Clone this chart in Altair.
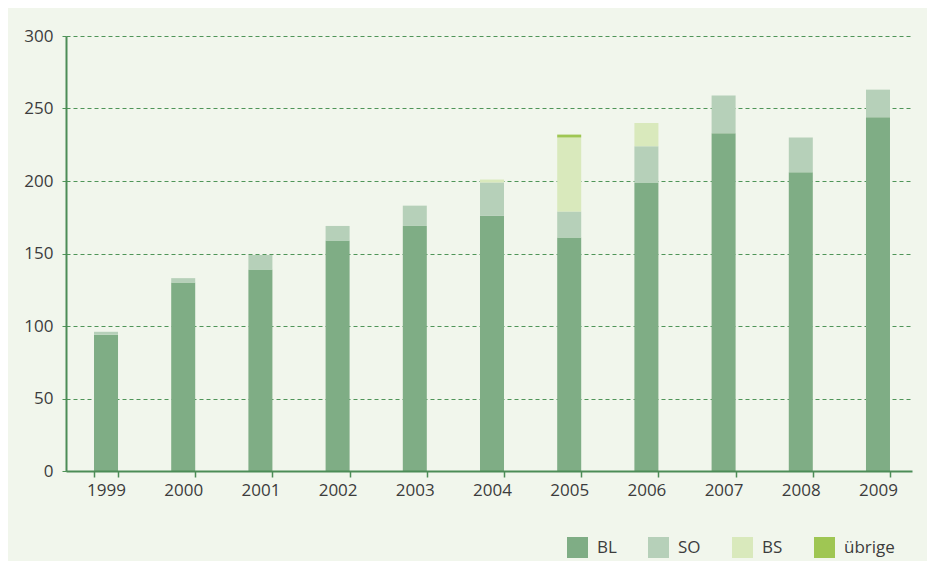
import altair as alt
import pandas as pd

years = ["1999", "2000", "2001", "2002", "2003", "2004", "2005", "2006", "2007", "2008", "2009"]
series = ["BL", "SO", "BS", "übrige"]
bl = [94, 130, 139, 159, 169, 176, 161, 199, 233, 206, 244]
so = [2, 3, 10, 10, 14, 23, 18, 25, 26, 24, 19]
bs = [0, 0, 0, 0, 0, 2, 51, 16, 0, 0, 0]
ubr = [0, 0, 0, 0, 0, 0, 2, 0, 0, 0, 0]
colors = ["#7fad85", "#b6d0b9", "#d9e9bc", "#9fc653"]

rows = []
for i, y in enumerate(years):
    for k, (s, vals) in enumerate(zip(series, [bl, so, bs, ubr])):
        rows.append({"Jahr": y, "Serie": s, "Wert": vals[i], "ord": k})
df = pd.DataFrame(rows)

font = "Open Sans"
axis_green = "#4c8c57"
text_col = "#3c3c3c"

chart = alt.Chart(df).mark_bar().encode(
    x=alt.X("Jahr:N", sort=years, title=None,
            scale=alt.Scale(paddingInner=0.689, paddingOuter=0.324, align=0.56),
            axis=alt.Axis(labelAngle=0, labelFontSize=17, labelColor=text_col, labelFont=font,
                          domainColor=axis_green, domainWidth=2, tickColor=axis_green,
                          tickWidth=1.5, tickSize=6, tickBand="extent", labelPadding=5,
                          zindex=1)),
    y=alt.Y("Wert:Q", title=None, stack="zero",
            scale=alt.Scale(domain=[0, 300], nice=False),
            axis=alt.Axis(values=[0, 50, 100, 150, 200, 250, 300], labelFontSize=17,
                          labelColor=text_col, labelFont=font, domainColor=axis_green,
                          domainWidth=2, grid=True, gridColor="#4f9558", gridDash=[4, 3],
                          gridWidth=1, tickColor="#4f9558", tickDash=[4, 3], tickSize=6,
                          labelPadding=7)),
    color=alt.Color("Serie:N", sort=series,
                    scale=alt.Scale(domain=series, range=colors),
                    legend=alt.Legend(title=None, orient="none", direction="horizontal",
                                      legendX=501, legendY=501, symbolType="square",
                                      symbolSize=441, symbolStrokeWidth=0, symbolOpacity=1,
                                      labelFontSize=17, labelColor=text_col, labelFont=font,
                                      labelOffset=9, columnPadding=31)),
    order=alt.Order("ord:Q", sort="ascending"),
).properties(
    width=846, height=435,
    autosize=alt.AutoSizeParams(type="none"),
    padding={"left": 58, "top": 28, "right": 15, "bottom": 90},
    background="#f1f6ec",
).configure_view(stroke=None)

chart.save("out.html", embed_options={"renderer": "svg", "actions": False})
